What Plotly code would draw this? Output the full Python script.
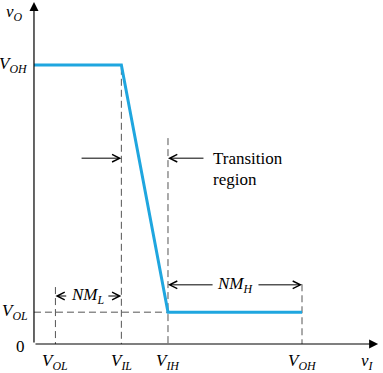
import plotly.graph_objects as go

# --- data (schematic voltage units) ---
vi_levels = {"V_OL": 0.40, "V_IL": 1.63, "V_IH": 2.50, "V_OH": 5.00}
vo_levels = {"V_OL": 0.57, "V_OH": 5.00}
tick_names = ["V_OL", "V_IL", "V_IH", "V_OH"]
tick_labels = ["<i>V</i><sub><i>OL</i></sub>", "<i>V</i><sub><i>IL</i></sub>",
               "<i>V</i><sub><i>IH</i></sub>", "<i>V</i><sub><i>OH</i></sub>"]
curve_x = [0.0, vi_levels["V_IL"], vi_levels["V_IH"], vi_levels["V_OH"]]
curve_y = [vo_levels["V_OH"], vo_levels["V_OH"], vo_levels["V_OL"], vo_levels["V_OL"]]

X_MIN, X_MAX = -0.634, 6.511
Y_MIN, Y_MAX = -0.520, 6.165

BLUE = "#1fa6df"
GRAY = "#555555"
FONT = "Liberation Serif"

fig = go.Figure()

# dashed guide lines
dx, dy = [], []
dx += [vi_levels["V_IL"], vi_levels["V_IL"], None]; dy += [4.95, 0, None]
dx += [vi_levels["V_IH"], vi_levels["V_IH"], None]; dy += [3.69, 0, None]
dx += [vi_levels["V_OL"], vi_levels["V_OL"], None]; dy += [1.02, 0, None]
dx += [vi_levels["V_OH"], vi_levels["V_OH"], None]; dy += [1.07, 0, None]
dx += [0, vi_levels["V_IH"]]; dy += [vo_levels["V_OL"], vo_levels["V_OL"]]
fig.add_trace(go.Scatter(x=dx, y=dy, mode="lines",
                         line=dict(color=GRAY, width=1, dash="7px,4px"),
                         hoverinfo="skip", showlegend=False))

# transfer curve
fig.add_trace(go.Scatter(x=curve_x, y=curve_y, mode="lines",
                         line=dict(color=BLUE, width=3),
                         hoverinfo="skip", showlegend=False))

ann = []

def arrow(x, y, ax, ay, head=5, size=1.5, width=1.0):
    ann.append(dict(x=x, y=y, ax=ax, ay=ay, xref="x", yref="y", axref="x", ayref="y",
                    text="", showarrow=True, arrowhead=head, arrowsize=size,
                    arrowwidth=width, arrowcolor="black", standoff=0, startstandoff=0))

def label(x, y, text, xanchor="center", yanchor="middle", size=17):
    ann.append(dict(x=x, y=y, xref="x", yref="y", text=text, showarrow=False,
                    xanchor=xanchor, yanchor=yanchor,
                    font=dict(family=FONT, size=size, color="black")))

# axes with arrowheads
arrow(0, 6.13, 0, 0, head=2, size=1.5, width=1.2)
arrow(6.42, 0, 0, 0, head=2, size=1.5, width=1.2)

# noise margin arrows
y_nml, y_nmh, y_tr = 0.86, 1.06, 3.33
arrow(vi_levels["V_OL"], y_nml, 0.63, y_nml)
arrow(vi_levels["V_IL"], y_nml, 1.36, y_nml)
arrow(vi_levels["V_IH"], y_nmh, 3.36, y_nmh)
arrow(vi_levels["V_OH"], y_nmh, 4.16, y_nmh)
arrow(vi_levels["V_IL"], y_tr, 0.86, y_tr)
arrow(vi_levels["V_IH"], y_tr, 3.19, y_tr)

label(1.00, y_nml, "<i>NM</i><sub><i>L</i></sub>")
label(3.76, y_nmh, "<i>NM</i><sub><i>H</i></sub>")
label(3.30, y_tr, "Transition", xanchor="left", size=17)
label(3.30, 2.94, "region", xanchor="left", size=17)

# axis labels
label(-0.07, vo_levels["V_OH"], "<i>V</i><sub><i>OH</i></sub>", xanchor="right")
label(-0.07, vo_levels["V_OL"], "<i>V</i><sub><i>OL</i></sub>", xanchor="right")
label(-0.13, -0.04, "0", xanchor="right")
label(-0.36, 5.93, "<i>v</i><sub><i>O</i></sub>")
for name, txt in zip(tick_names, tick_labels):
    label(vi_levels[name], -0.32, txt)
label(6.23, -0.32, "<i>v</i><sub><i>I</i></sub>")

fig.update_layout(
    width=383, height=373, autosize=False,
    margin=dict(l=0, r=0, t=0, b=0),
    paper_bgcolor="white", plot_bgcolor="white",
    font=dict(family=FONT),
    xaxis=dict(range=[X_MIN, X_MAX], visible=False, fixedrange=True),
    yaxis=dict(range=[Y_MIN, Y_MAX], visible=False, fixedrange=True),
    annotations=ann, showlegend=False,
)

fig.write_html("out.html", config={"displayModeBar": False},
               post_script="document.body.style.margin='0';document.body.style.padding='0';")
